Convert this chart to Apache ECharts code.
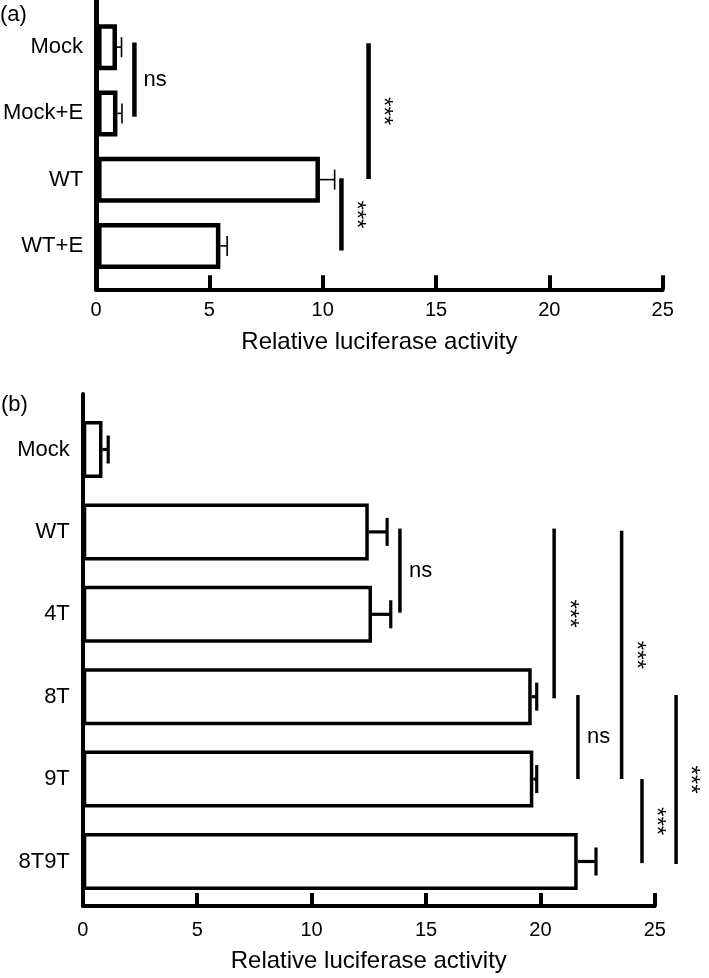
<!DOCTYPE html>
<html>
<head>
<meta charset="utf-8">
<script src="https://cdn.jsdelivr.net/npm/echarts@6/dist/echarts.min.js"></script>
<style>html,body{margin:0;padding:0;background:#fff;}#c{width:709px;height:978px;}</style>
</head>
<body>
<div id="c"></div>
<script>
// ---- Data ----
var catsA = ['Mock', 'Mock+E', 'WT', 'WT+E'];
var valsA = [0.88, 0.9, 9.85, 5.45];
var errA  = [0.2, 0.2, 0.65, 0.3];
var sigAx    = [1.65, 12.0, 10.8];
var sigAfrom = [-0.07, -0.06, 1.98];
var sigAto   = [1.05, 1.99, 3.07];
var sigAlab  = ['ns', '***', '***'];

var catsB = ['Mock', 'WT', '4T', '8T', '9T', '8T9T'];
var valsB = [0.86, 12.5, 12.64, 19.62, 19.69, 21.63];
var errB  = [0.25, 0.8, 0.82, 0.22, 0.15, 0.8];
var sigBx    = [13.86, 20.6, 23.55, 21.64, 24.44, 25.93];
var sigBfrom = [0.96, 0.96, 0.985, 2.98, 4.0, 2.98];
var sigBto   = [1.98, 3.02, 4.0, 4.0, 5.02, 5.03];
var sigBlab  = ['ns', '***', '***', 'ns', '***', '***'];

var xTicks = [0, 25, 5]; // min, max, interval
var axisName = 'Relative luciferase activity';

var FONT = '"Liberation Sans", Arial, Helvetica, sans-serif';

function errRender(capH, lw) {
  return function (params, api) {
    var v = api.value(0), i = api.value(1), e = api.value(2);
    var p0 = api.coord([v, i]);
    var p1 = api.coord([v + e, i]);
    return {
      type: 'group',
      children: [
        {type: 'line', shape: {x1: p0[0], y1: p0[1], x2: p1[0], y2: p1[1]}, style: {stroke: '#000', lineWidth: lw}},
        {type: 'line', shape: {x1: p1[0], y1: p1[1] - capH / 2, x2: p1[0], y2: p1[1] + capH / 2}, style: {stroke: '#000', lineWidth: lw}}
      ]
    };
  };
}

function sigRender(xs, froms, tos, labs, lw) {
  return function (params, api) {
    var k = params.dataIndex;
    var c0 = api.coord([xs[k], 0]);
    var c1 = api.coord([xs[k], 1]);
    var band = c1[1] - c0[1];
    var y1 = c0[1] + froms[k] * band;
    var y2 = c0[1] + tos[k] * band;
    var x = c0[0];
    var ym = (y1 + y2) / 2;
    var lab = labs[k];
    var txt;
    if (lab === 'ns') {
      txt = {type: 'text', x: x + 9, y: ym, style: {text: lab, align: 'left', verticalAlign: 'middle', fill: '#000', font: '22px ' + FONT}};
    } else {
      txt = {type: 'text', x: x + 14, y: ym, rotation: -Math.PI / 2, style: {text: lab, align: 'center', verticalAlign: 'middle', fill: '#000', font: '24px ' + FONT}};
    }
    return {
      type: 'group',
      children: [
        {type: 'line', shape: {x1: x, y1: y1, x2: x, y2: y2}, style: {stroke: '#000', lineWidth: lw}},
        txt
      ]
    };
  };
}

function axisX(gi, nameGap, labelMargin, tickLen) {
  return {
    gridIndex: gi, type: 'value', min: xTicks[0], max: xTicks[1], interval: xTicks[2],
    axisLine: {show: true, onZero: false, lineStyle: {color: '#000', width: 4}},
    axisTick: {show: true, inside: true, length: tickLen, lineStyle: {color: '#000', width: 4}},
    axisLabel: {show: true, color: '#000', fontSize: 20, fontFamily: FONT, margin: labelMargin},
    splitLine: {show: false},
    name: axisName, nameLocation: 'middle', nameGap: nameGap,
    nameTextStyle: {color: '#000', fontSize: 24, fontFamily: FONT}
  };
}
function hiddenX(gi) {
  return {gridIndex: gi, type: 'value', min: xTicks[0], max: xTicks[1], show: false, splitLine: {show: false}};
}
function axisY(gi, w) {
  return {
    gridIndex: gi, type: 'value', min: 0, max: 1,
    axisLine: {show: true, onZero: false, lineStyle: {color: '#000', width: w}},
    axisTick: {show: false}, axisLabel: {show: false}, splitLine: {show: false}
  };
}
function catY(gi, cats, margin) {
  return {
    gridIndex: gi, type: 'category', inverse: true, data: cats,
    axisLine: {show: false}, axisTick: {show: false},
    axisLabel: {color: '#000', fontSize: 22, fontFamily: FONT, margin: margin},
    splitLine: {show: false}
  };
}

var chart = echarts.init(document.getElementById('c'), null, {renderer: 'canvas'});
chart.setOption({
  animation: false,
  backgroundColor: '#fff',
  textStyle: {fontFamily: FONT},
  title: [
    {text: '(a)', left: 0, top: 4, padding: 0, textStyle: {fontSize: 22, fontWeight: 'normal', color: '#000', fontFamily: FONT}},
    {text: '(b)', left: 1, top: 394, padding: 0, textStyle: {fontSize: 22, fontWeight: 'normal', color: '#000', fontFamily: FONT}}
  ],
  grid: [
    {left: 96, right: 46.3, top: 0, height: 289.3, containLabel: false},
    {left: 96, right: 46.3, top: 14, height: 265, containLabel: false},
    {left: 82.8, right: 54.2, top: 394, height: 522, containLabel: false},
    {left: 82.8, right: 54.2, top: 408.3, height: 494.4, containLabel: false}
  ],
  xAxis: [axisX(0, 41, 11, 14), hiddenX(1), axisX(2, 43, 14, 13), hiddenX(3)],
  yAxis: [axisY(0, 5), catY(1, catsA, 14), axisY(2, 4), catY(3, catsB, 13)],
  series: [
    {type: 'bar', xAxisIndex: 1, yAxisIndex: 1, data: valsA, barWidth: 46,
     itemStyle: {color: '#fff', borderColor: '#000', borderWidth: 4.5}},
    {type: 'custom', xAxisIndex: 1, yAxisIndex: 1, renderItem: errRender(20, 1.6),
     data: valsA.map(function (v, i) { return [v, i, errA[i]]; })},
    {type: 'custom', xAxisIndex: 1, yAxisIndex: 1, renderItem: sigRender(sigAx, sigAfrom, sigAto, sigAlab, 4.5),
     data: sigAx.map(function (x, k) { return [x, 0]; })},
    {type: 'bar', xAxisIndex: 3, yAxisIndex: 3, data: valsB, barWidth: 57,
     itemStyle: {color: '#fff', borderColor: '#000', borderWidth: 3.5}},
    {type: 'custom', xAxisIndex: 3, yAxisIndex: 3, renderItem: errRender(28, 3.2),
     data: valsB.map(function (v, i) { return [v, i, errB[i]]; })},
    {type: 'custom', xAxisIndex: 3, yAxisIndex: 3, renderItem: sigRender(sigBx, sigBfrom, sigBto, sigBlab, 3.5),
     data: sigBx.map(function (x, k) { return [x, 0]; })}
  ]
});
</script>
</body>
</html>
